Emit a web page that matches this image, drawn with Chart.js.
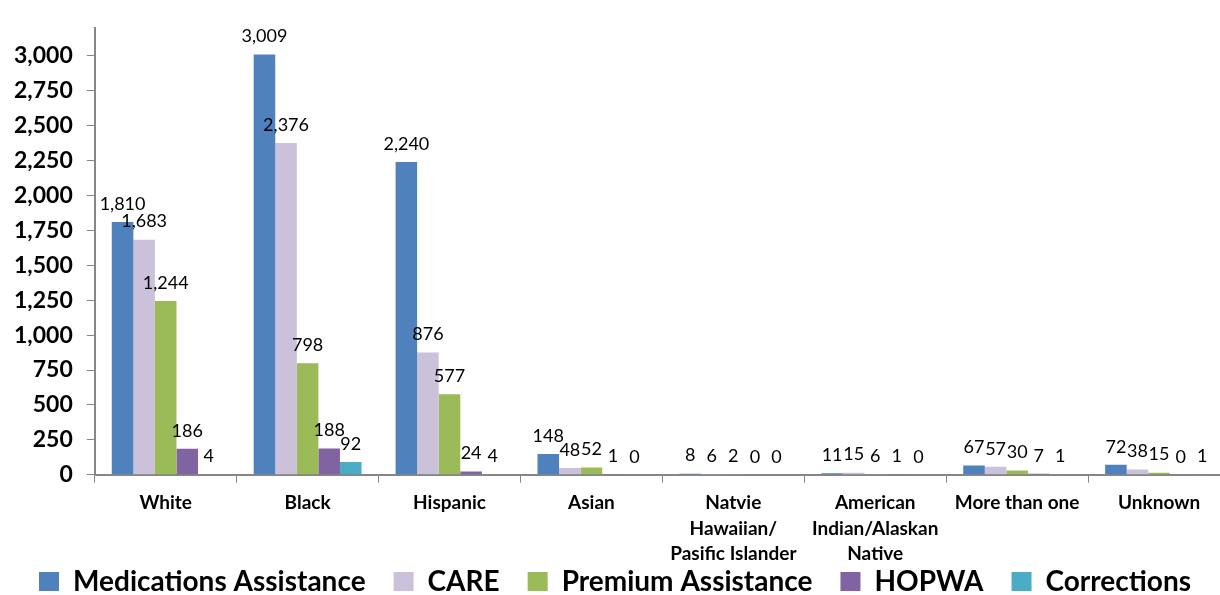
<!DOCTYPE html>
<html>
<head>
<meta charset="utf-8">
<script src="https://cdn.jsdelivr.net/npm/chart.js@4/dist/chart.umd.min.js"></script>
<style>
  html, body { margin: 0; padding: 0; background: #fff; overflow: hidden; }
  #wrap { width: 1230px; height: 595px; }
</style>
</head>
<body>
<div id="wrap"><canvas id="myChart"></canvas></div>
<script>
// data
const categories = ['White', 'Black', 'Hispanic', 'Asian',
    ['Natvie', 'Hawaiian/', 'Pasific Islander'],
    ['American', 'Indian/Alaskan', 'Native'],
    'More than one', 'Unknown'];
const medications = [1810, 3009, 2240, 148, 8, 11, 67, 72];
const care = [1683, 2376, 876, 48, 6, 15, 57, 38];
const premium = [1244, 798, 577, 52, 2, 6, 30, 15];
const hopwa = [186, 188, 24, 1, 0, 1, 7, 0];
const corrections = [4, 92, 4, 0, 0, 0, 1, 1];
const seriesNames = ['Medications Assistance', 'CARE', 'Premium Assistance', 'HOPWA', 'Corrections'];
const seriesColors = ['#4F81BD', '#CCC1DA', '#9BBB59', '#8064A2', '#4BACC6'];
const yTickValues = [0, 250, 500, 750, 1000, 1250, 1500, 1750, 2000, 2250, 2500, 2750, 3000];

const FONT = 'Lato, "Open Sans", sans-serif';

// value labels above each bar
const valueLabels = {
    id: 'valueLabels',
    afterDatasetsDraw(chart) {
        const ctx = chart.ctx;
        ctx.save();
        ctx.font = '18px ' + FONT;
        ctx.fillStyle = '#000';
        ctx.textAlign = 'center';
        ctx.textBaseline = 'bottom';
        chart.data.datasets.forEach((ds, i) => {
            chart.getDatasetMeta(i).data.forEach((bar, j) => {
                ctx.fillText(ds.data[j].toLocaleString('en-US'), bar.x, bar.y - 9);
            });
        });
        ctx.restore();
    }
};

// let the legend overlap the space under the x labels a bit (like the excel original)
const LEGEND_SHRINK = 49, LEGEND_SHIFT = 34;
const legendSqueeze = {
    id: 'legendSqueeze',
    beforeLayout(chart) {
        const lg = chart.legend;
        if (lg && !lg._squeezed) {
            const fit = lg.fit;
            lg.fit = function () { fit.call(this); this.height -= LEGEND_SHRINK; };
            lg._squeezed = true;
        }
    },
    afterLayout(chart) {
        chart.legend.top -= LEGEND_SHIFT;
    }
};

const allSeries = [medications, care, premium, hopwa, corrections];

const ctx = document.getElementById('myChart').getContext('2d');
const myChart = new Chart(ctx, {
    type: 'bar',
    data: {
        labels: categories,
        datasets: allSeries.map((d, i) => ({
            label: seriesNames[i],
            data: d,
            backgroundColor: seriesColors[i],
            borderWidth: 0,
        }))
    },
    options: {
        responsive: true,
        maintainAspectRatio: false,
        animation: false,
        events: [],
        layout: { padding: { top: 15, left: 0, right: 0, bottom: 4 } },
        datasets: { bar: { categoryPercentage: 0.76, barPercentage: 1 } },
        scales: {
            x: {
                grid: { offset: true, drawOnChartArea: false, tickLength: 8, color: '#868686' },
                border: { color: '#868686', width: 2 },
                ticks: {
                    color: '#000',
                    font: { family: FONT, size: 19, weight: 'bold', lineHeight: 1.32 },
                    padding: 8,
                    maxRotation: 0,
                    autoSkip: false,
                }
            },
            y: {
                min: 0,
                max: 3200,
                grid: { drawOnChartArea: false, tickLength: 8, color: '#868686' },
                border: { color: '#868686', width: 2 },
                afterBuildTicks: axis => { axis.ticks = yTickValues.map(v => ({ value: v })); },
                ticks: {
                    color: '#000',
                    padding: 14,
                    autoSkip: false,
                    font: { family: FONT, size: 23, weight: 'bold' },
                    callback: v => v.toLocaleString('en-US'),
                }
            }
        },
        plugins: {
            tooltip: { enabled: false },
            legend: {
                position: 'bottom',
                labels: {
                    color: '#000',
                    boxWidth: 20,
                    boxHeight: 20,
                    padding: 28,
                    font: { family: FONT, size: 28, weight: 'bold' },
                }
            }
        }
    },
    plugins: [valueLabels, legendSqueeze]
});
</script>
</body>
</html>
